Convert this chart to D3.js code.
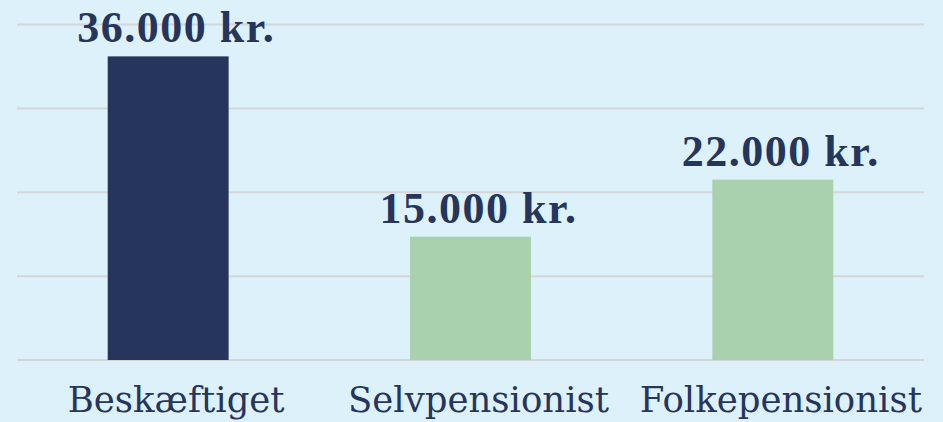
<!DOCTYPE html>
<html>
<head>
<meta charset="utf-8">
<script src="https://cdn.jsdelivr.net/npm/d3@7"></script>
<style>
  html, body { margin: 0; padding: 0; background: #ddf1fa; }
  svg { display: block; }
</style>
</head>
<body>
<div id="chart"></div>
<script>
(function () {
    // data
    var categories = ['Beskæftiget', 'Selvpensionist', 'Folkepensionist'];
    var values = [36200, 14700, 21500];
    var valueLabels = ['36.000 kr.', '15.000 kr.', '22.000 kr.'];
    var barColors = ['#26355c', '#a9d1ae', '#a9d1ae'];
    var gridTicks = [0, 10000, 20000, 30000, 40000];

    var w = 943;
    var h = 422;
    var left = 17, right = 924;
    var top = 24.5, bottom = 360;

    var svg = d3.select('#chart')
        .append('svg')
            .attr('width', w)
            .attr('height', h);

    svg.append('rect')
        .attr('width', w)
        .attr('height', h)
        .attr('fill', '#ddf1fa');

    var x = d3.scaleBand()
        .domain(categories)
        .range([left, right])
        .paddingInner(0.6)
        .paddingOuter(0.3);

    var y = d3.scaleLinear()
        .domain([0, 40000])
        .range([bottom, top]);

    // gridlines
    svg.append('g')
        .selectAll('line')
        .data(gridTicks)
        .enter()
        .append('line')
            .attr('x1', left)
            .attr('x2', right)
            .attr('y1', function (d) { return y(d); })
            .attr('y2', function (d) { return y(d); })
            .attr('stroke', '#d4d6d8')
            .attr('stroke-width', 2);

    // bars
    svg.append('g')
        .selectAll('rect')
        .data(values)
        .enter()
        .append('rect')
            .attr('x', function (d, i) { return x(categories[i]); })
            .attr('y', function (d) { return y(d); })
            .attr('width', x.bandwidth())
            .attr('height', function (d) { return bottom - y(d); })
            .attr('fill', function (d, i) { return barColors[i]; });

    // value labels
    svg.append('g')
        .selectAll('text')
        .data(values)
        .enter()
        .append('text')
            .text(function (d, i) { return valueLabels[i]; })
            .attr('x', function (d, i) { return x(categories[i]) + x.bandwidth() / 2 + 8; })
            .attr('y', function (d) { return y(d) - 14; })
            .attr('text-anchor', 'middle')
            .style('font-family', '"Liberation Serif", serif')
            .style('font-weight', 'bold')
            .style('font-size', '44px')
            .style('letter-spacing', '1.5px')
            .style('fill', '#26355c');

    // category axis labels
    svg.append('g')
        .selectAll('text')
        .data(categories)
        .enter()
        .append('text')
            .text(function (d) { return d; })
            .attr('x', function (d) { return x(d) + x.bandwidth() / 2 + 8; })
            .attr('y', 412)
            .attr('text-anchor', 'middle')
            .style('font-family', '"DejaVu Serif", serif')
            .style('font-size', '35.5px')
            .style('fill', '#26355c');
})();
</script>
</body>
</html>
